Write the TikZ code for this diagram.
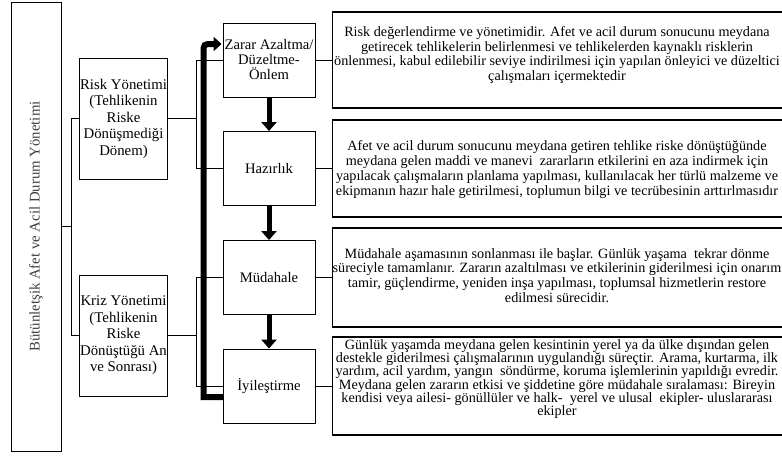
\documentclass[tikz,border=0pt]{standalone}
\usepackage{fontspec}
\setmainfont{Liberation Serif}
\usetikzlibrary{arrows.meta,calc}
\begin{document}
\begin{tikzpicture}[x=1pt,y=-1pt,
  box/.style={draw, line width=0.9pt, align=center, inner sep=0.5pt, text=black,
    font=\fontsize{14.8}{16.5}\selectfont},
  phasebox/.style={box, minimum width=92pt, minimum height=74pt, font=\fontsize{14.6}{15}\selectfont},
  descbox/.style={draw, line width=1.4pt, anchor=west, minimum width=480pt},
  desctext/.style={align=center, inner sep=0pt, text=black, font=\fontsize{14.2}{14.8}\selectfont},
  conn/.style={draw, line width=0.9pt},
  downarrow/.style={line width=5pt, -{Triangle[length=9pt,width=15pt]}},
  bigline/.style={line width=6pt, line join=miter, -{Triangle[length=8pt,width=14pt]}}]
\useasboundingbox (0,0) rectangle (782,456);
\fill[white] (0,0) rectangle (782,456);

% left main box
\node[box, rotate=90, minimum width=449pt, minimum height=50pt, text=black!75] (main) at (36,226.5)
  {Bütünletşik Afet ve Acil Durum Yönetimi};

% management boxes
\node[box, minimum width=87pt, minimum height=121pt] (risk) at (123.5,118.5)
  {Risk Yönetimi\\(Tehlikenin\\Riske\\Dönüşmediği\\Dönem)};
\node[box, minimum width=87pt, minimum height=121pt] (kriz) at (123.5,335.5)
  {Kriz Yönetimi\\(Tehlikenin\\Riske\\Dönüştüğü An\\ve Sonrası)};

% phase boxes
\node[phasebox] (zarar) at (269,60) {Zarar Azaltma/\\Düzeltme-\\Önlem};
\node[phasebox] (haz) at (269,168.5) {Hazırlık};
\node[phasebox] (mud) at (269,277.5) {Müdahale};
\node[phasebox] (iyi) at (269,386) {İyileştirme};

% description boxes
\node[descbox, minimum height=96pt] (d1) at (332,60) {};
\node[descbox, minimum height=97pt] (d2) at (332,168.5) {};
\node[descbox, minimum height=99pt] (d3) at (332,277.5) {};
\node[descbox, minimum height=98pt] (d4) at (332,386) {};

\node[desctext] (t1) at (557,55)
  {Risk değerlendirme ve yönetimidir. Afet ve acil durum sonucunu meydana\\
   getirecek tehlikelerin belirlenmesi ve tehlikelerden kaynaklı risklerin\\
   önlenmesi, kabul edilebilir seviye indirilmesi için yapılan önleyici ve düzeltici\\
   çalışmaları içermektedir};
\node[desctext] (t2) at (557,169.5)
  {Afet ve acil durum sonucunu meydana getiren tehlike riske dönüştüğünde\\
   meydana gelen maddi ve manevi~ zararların etkilerini en aza indirmek için\\
   yapılacak çalışmaların planlama yapılması, kullanılacak her türlü malzeme ve\\
   ekipmanın hazır hale getirilmesi, toplumun bilgi ve tecrübesinin arttırlmasıdır};
\node[desctext] (t3) at (557,275.5)
  {Müdahale aşamasının sonlanması ile başlar. Günlük yaşama~ tekrar dönme\\
   süreciyle tamamlanır. Zararın azaltılması ve etkilerinin giderilmesi için onarım\\
   tamir, güçlendirme, yeniden inşa yapılması, toplumsal hizmetlerin restore\\
   edilmesi sürecidir.};
\node[desctext, font=\fontsize{14.2}{13.2}\selectfont] (t4) at (557,379)
  {Günlük yaşamda meydana gelen kesintinin yerel ya da ülke dışından gelen\\
   destekle giderilmesi çalışmalarının uygulandığı süreçtir. Arama, kurtarma, ilk\\
   yardım, acil yardım, yangın~ söndürme, koruma işlemlerinin yapıldığı evredir.\\
   Meydana gelen zararın etkisi ve şiddetine göre müdahale sıralaması: Bireyin\\
   kendisi veya ailesi- gönüllüler ve halk-~ yerel ve ulusal~ ekipler- uluslararası\\
   ekipler};

% connectors
\draw[conn] (main.south) -- ++(10,0) coordinate (jl);
\draw[conn] (risk.west) -| (jl) |- (kriz.west);
\draw[conn] (risk.east) -- ++(29,0) coordinate (jr1);
\draw[conn] (zarar.west) -| (jr1) |- (haz.west);
\draw[conn] (kriz.east) -- ++(29,0) coordinate (jr2);
\draw[conn] (mud.west) -| (jr2) |- (iyi.west);
\draw[conn] (zarar.east) -- (d1.west);
\draw[conn] (haz.east) -- (d2.west);
\draw[conn] (mud.east) -- (d3.west);
\draw[conn] (iyi.east) -- (d4.west);

% phase arrows
\draw[downarrow] (zarar.south) -- (haz.north);
\draw[downarrow] (haz.south) -- (mud.north);
\draw[downarrow] (mud.south) -- (iyi.north);

% feedback arrow
\coordinate (p0) at ($(iyi.west)+(1,11)$);
\draw[bigline] (p0) -- ++(-20,0) coordinate (p1)
  -- ($(p1 |- zarar.west)+(0,-7)$) coordinate (p2)
  .. controls ($(p2)+(0,-9)$) .. ($(p2)+(9,-9)$)
  -- ($(zarar.west)+(-1,-16)$);
\end{tikzpicture}
\end{document}
